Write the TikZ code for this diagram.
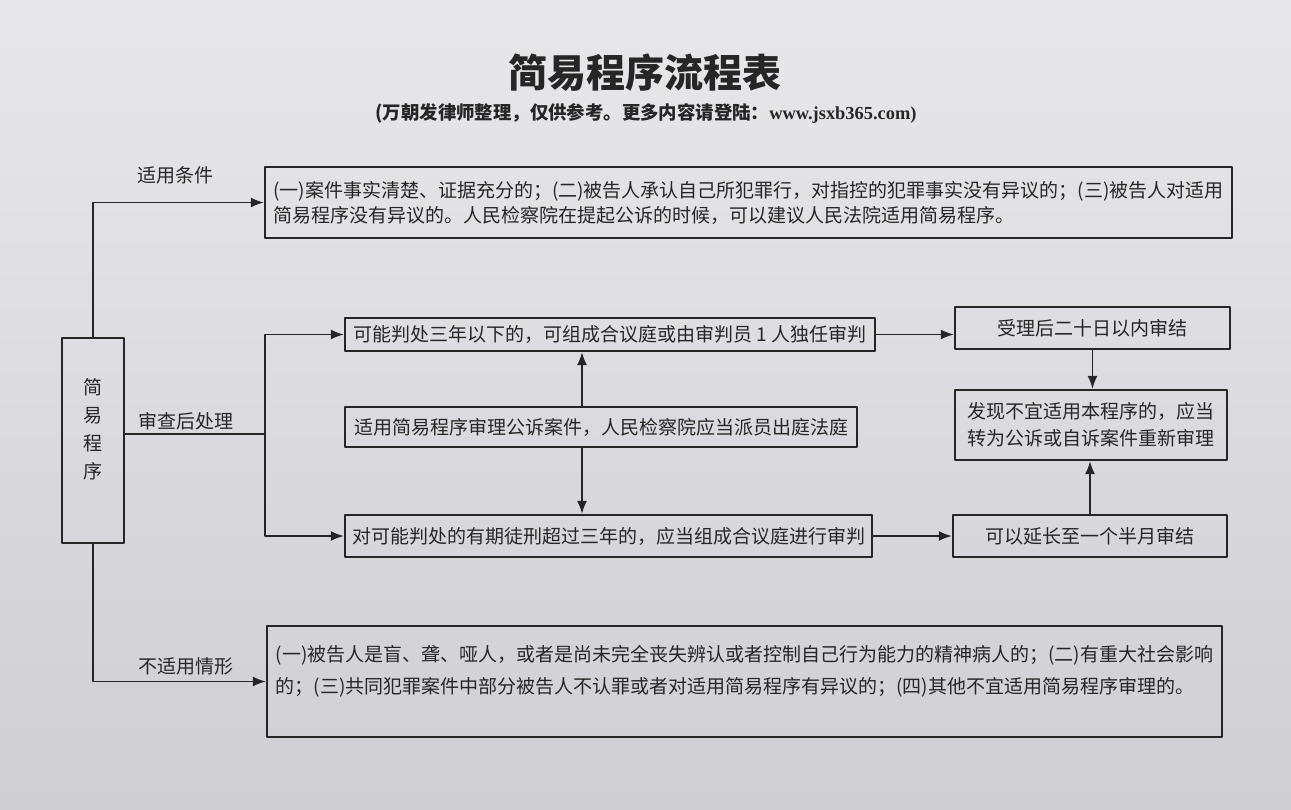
\documentclass[tikz,border=0pt]{standalone}
\usepackage{fontspec}
\setmainfont{Noto Sans CJK SC}
\newfontfamily\latin{Liberation Serif}
\usetikzlibrary{arrows.meta}

\begin{document}
\begin{tikzpicture}[x=0.5pt, y=-0.5pt, >={Latex[length=6.5pt,width=5pt]}, line join=round,
		font=\fontsize{9.5}{12.5}\selectfont, text=black!85,
		kuang/.style={draw=black!85, line width=1.1pt, inner sep=0pt, align=left},
		xian/.style={draw=black!85, line width=0.9pt},
		jt/.style={xian,->}]
	\useasboundingbox (0,0) rectangle (1291,809);
	\shade[top color={rgb,255:red,232;green,232;blue,235}, bottom color={rgb,255:red,207;green,207;blue,211}] (0,0) rectangle (1291,809);
	% titel
	\node[font=\fontsize{19.5}{20}\selectfont\bfseries] (biaoti) at (645,73) {简易程序流程表};
	\node[font=\fontsize{9.2}{10}\selectfont\bfseries] (zhushi) at (646,113) {({}万朝发律师整理，仅供参考。更多内容请登陆：{\latin www.jsxb365.com)}};
	% links
	\node[kuang, align=center, minimum width=31pt, minimum height=102.5pt, font=\fontsize{9.5}{14}\selectfont] (jianyi) at (93,440.5) {简\\易\\程\\序\\[-2pt]\mbox{}};
	% boxen
	\node[kuang, minimum width=483.5pt, minimum height=35.5pt] (tiaojian) at (748.5,202.5) {(一)案件事实清楚、证据充分的；(二)被告人承认自己所犯罪行，对指控的犯罪事实没有异议的；(三)被告人对适用\\简易程序没有异议的。人民检察院在提起公诉的时候，可以建议人民法院适用简易程序。};
	\node[kuang, minimum width=265pt, minimum height=16.5pt] (sanxia) at (610,334.5) {可能判处三年以下的，可组成合议庭或由审判员 1 人独任审判};
	\node[kuang, minimum width=256pt, minimum height=20pt] (chuting) at (601,427) {适用简易程序审理公诉案件，人民检察院应当派员出庭法庭};
	\node[kuang, minimum width=263.5pt, minimum height=21pt] (sanshang) at (608.5,536) {对可能判处的有期徒刑超过三年的，应当组成合议庭进行审判};
	\node[kuang, minimum width=137.5pt, minimum height=21pt] (ershiri) at (1092.5,328) {受理后二十日以内审结};
	\node[kuang, minimum width=136pt, minimum height=35pt, font=\fontsize{9.5}{13.5}\selectfont] (zhuanwei) at (1091,425) {发现不宜适用本程序的，应当\\转为公诉或自诉案件重新审理};
	\node[kuang, minimum width=137pt, minimum height=21pt] (yanchang) at (1090,536) {可以延长至一个半月审结};
	\node[kuang, minimum width=477.5pt, minimum height=55.5pt, font=\fontsize{9.5}{16}\selectfont] (buheshi) at (744.5,681.5) {(一)被告人是盲、聋、哑人，或者是尚未完全丧失辨认或者控制自己行为能力的精神病人的；(二)有重大社会影响\\的；(三)共同犯罪案件中部分被告人不认罪或者对适用简易程序有异议的；(四)其他不宜适用简易程序审理的。\\[-3.5pt]\mbox{}};
	% beschriftung
	\node (l_tiaojian) at (175,175) {适用条件};
	\node (l_shencha) at (186,421) {审查后处理};
	\node (l_buheshi) at (186,666) {不适用情形};
	% pfeile
	\coordinate (fenzhi) at (265,434);
	\coordinate (zhou) at (582,0);
	\draw[jt] (jianyi.north) |- (tiaojian.west);
	\draw[xian] (fenzhi -| jianyi.east) -- (fenzhi);
	\draw[jt] (fenzhi) |- (sanxia.west);
	\draw[jt] (fenzhi) |- (sanshang.west);
	\draw[jt] (jianyi.south) |- (buheshi.west);
	\draw[jt] (chuting.north -| zhou) -- (sanxia.south -| zhou);
	\draw[jt] (chuting.south -| zhou) -- (sanshang.north -| zhou);
	\draw[jt] (sanxia.east) -- (sanxia.east -| ershiri.west);
	\draw[jt] (sanshang.east) -- (sanshang.east -| yanchang.west);
	\draw[jt] (ershiri.south) -- (ershiri.south |- zhuanwei.north);
	\draw[jt] (yanchang.north) -- (yanchang.north |- zhuanwei.south);
\end{tikzpicture}
\end{document}
